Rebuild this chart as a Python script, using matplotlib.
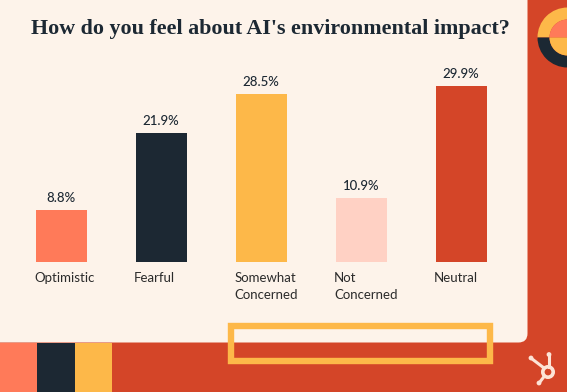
import matplotlib
matplotlib.use("Agg")
import matplotlib.pyplot as plt
from matplotlib.patches import Rectangle, FancyBboxPatch, Wedge, Circle

categories = ["Optimistic", "Fearful", "Somewhat\nConcerned", "Not\nConcerned", "Neutral"]
values = [8.8, 21.9, 28.5, 10.9, 29.9]
value_labels = ["8.8%", "21.9%", "28.5%", "10.9%", "29.9%"]
title = "How do you feel about AI's environmental impact?"

CREAM = "#FDF3EA"
RED = "#D44528"
SALMON = "#FF7A59"
NAVY = "#1C2833"
YELLOW = "#FDB849"
PINK = "#FFD1C4"
bar_colors = [SALMON, NAVY, YELLOW, PINK, RED]

W, H = 567, 392
fig = plt.figure(figsize=(W / 100, H / 100), dpi=100)
fig.patch.set_facecolor(RED)

# background decoration axes in pixel coordinates (y down)
bg = fig.add_axes([0, 0, 1, 1])
bg.set_xlim(0, W)
bg.set_ylim(H, 0)
bg.axis("off")

# cream card with rounded bottom-right corner
bg.add_patch(FancyBboxPatch((-20, -20), 527.5 + 20, 342.5 + 20,
                            boxstyle="round,pad=0,rounding_size=9",
                            fc=CREAM, ec="none", zorder=1))
# bottom-left colour blocks
bg.add_patch(Rectangle((0, 342.5), 37, 60, fc=SALMON, ec="none", zorder=2))
bg.add_patch(Rectangle((37, 342.5), 37.5, 60, fc=NAVY, ec="none", zorder=2))
bg.add_patch(Rectangle((74.5, 342.5), 37.5, 60, fc=YELLOW, ec="none", zorder=2))
# yellow outline rectangle
bg.add_patch(Rectangle((230.5, 325.5), 259.5, 35, fill=False, ec=YELLOW, lw=4.6, zorder=3))

# top-right circle motif
cx, cy = 567.5, 37.5
bg.add_patch(Wedge((cx, cy), 30, 180, 360, width=12, fc=YELLOW, ec="none", zorder=2))
bg.add_patch(Wedge((cx, cy), 18, 180, 360, fc=SALMON, ec="none", zorder=2))
bg.add_patch(Wedge((cx, cy), 30, 0, 180, width=12, fc=NAVY, ec="none", zorder=2))
bg.add_patch(Wedge((cx, cy), 18, 0, 180, fc=YELLOW, ec="none", zorder=2))

# HubSpot sprocket
LOGO = "#FDE3D6"
lx, ly = 548, 372
bg.add_patch(Circle((lx, ly), 5.2, fill=False, ec=LOGO, lw=2.6, zorder=4))
bg.plot([lx - 4, 531.5], [ly - 4, 358.5], color=LOGO, lw=2.2, zorder=4, solid_capstyle="round")
bg.plot([lx + 1, 549], [ly - 5, 355.5], color=LOGO, lw=2.2, zorder=4)
bg.plot([lx - 3.5, 539.5], [ly + 4, 382.5], color=LOGO, lw=2.2, zorder=4)
for px, py in [(531, 358), (549, 354.5), (539, 383)]:
    bg.add_patch(Circle((px, py), 2.4, fc=LOGO, ec="none", zorder=4))

# title
bg.text(270.5, 29, title, ha="center", va="center", fontsize=15.8,
        family="Liberation Serif", fontweight="bold", color=NAVY, zorder=5)

# bar chart axes: x centers at 61 + 100*i px, baseline at y=262 px
ax = fig.add_axes([11 / W, 130 / H, 500 / W, 206 / H])
ax.set_xlim(-0.5, 4.5)
ax.set_ylim(0, 35)
ax.patch.set_alpha(0)
ax.axis("off")
x = list(range(len(values)))
bw = 0.51
ax.bar(x, values, width=bw, color=bar_colors, zorder=3)
for xi, v, lab in zip(x, values, value_labels):
    ax.annotate(lab, (xi, v), xytext=(0, 4.5), textcoords="offset points",
                ha="center", va="bottom", fontsize=9.5, family="Lato",
                color=NAVY, fontweight="medium")
for xi, cat in zip(x, categories):
    ax.annotate(cat, (xi - bw / 2, 0), xytext=(-1, -7), textcoords="offset points",
                ha="left", va="top", fontsize=9.5, family="Lato",
                color="#2B2B2B", linespacing=1.55)

fig.savefig("out.png", dpi=100, facecolor=fig.get_facecolor())
